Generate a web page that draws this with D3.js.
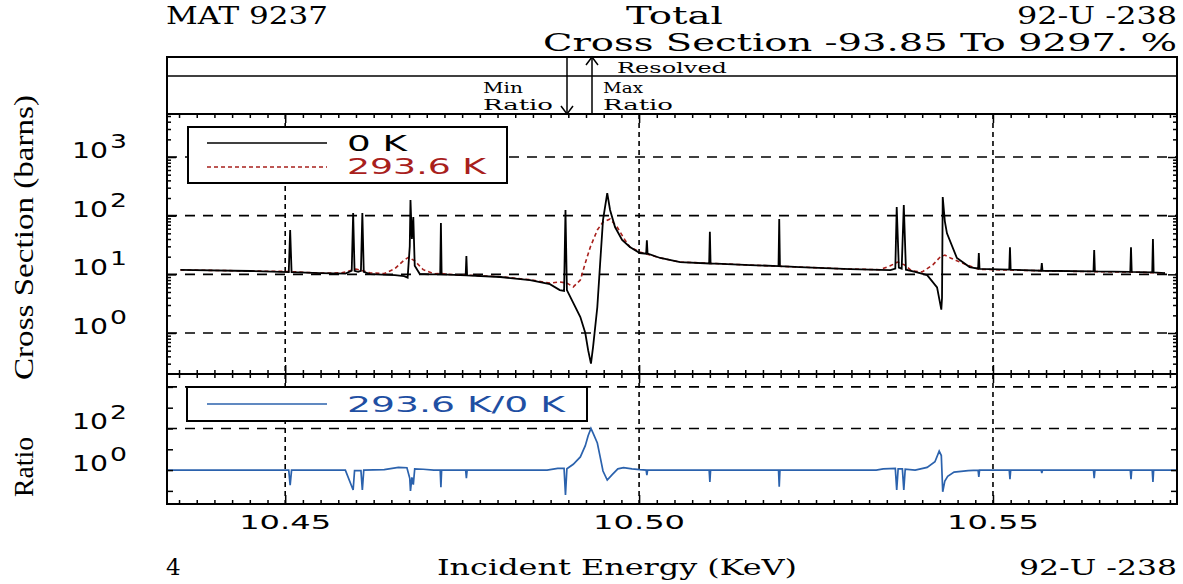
<!DOCTYPE html>
<html>
<head>
<meta charset="utf-8">
<script src="https://cdn.jsdelivr.net/npm/d3@7"></script>
<style>
  body { margin: 0; background: #fff; }
  svg { display: block; }
  .mono { font-family: "DejaVu Serif", "Liberation Serif", serif; }
  .sans { font-family: "DejaVu Sans", Arial, sans-serif; }
</style>
</head>
<body>
<div id="chart"></div>
<script>
// energies in keV, cross sections in barns
var xs0K = [10.4352, 10.4451, 10.4505, 10.4507, 10.4509, 10.4549, 10.4585, 10.4594, 10.4596, 10.4598,
  10.4603, 10.4607, 10.4609, 10.4611, 10.4620, 10.4655, 10.4668, 10.4673, 10.4676, 10.4677,
  10.4679, 10.4681, 10.4683, 10.4690, 10.4705, 10.4719, 10.4720, 10.4721, 10.4755, 10.4756,
  10.4757, 10.4804, 10.4846, 10.4874, 10.4888, 10.4894, 10.4896, 10.4898, 10.4907, 10.4917,
  10.4924, 10.4928, 10.4932, 10.4935, 10.4941, 10.4945, 10.4949, 10.4955, 10.4959, 10.4966,
  10.4976, 10.4987, 10.5001, 10.5010, 10.5011, 10.5012, 10.5030, 10.5058, 10.5099, 10.5100,
  10.5101, 10.5157, 10.5197, 10.5198, 10.5199, 10.5227, 10.5298, 10.5340, 10.5355, 10.5362,
  10.5364, 10.5367, 10.5371, 10.5374, 10.5377, 10.5390, 10.5407, 10.5421, 10.5427, 10.5428,
  10.5429, 10.5432, 10.5435, 10.5449, 10.5467, 10.5479, 10.5480, 10.5481, 10.5523, 10.5524,
  10.5525, 10.5568, 10.5569, 10.5570, 10.5642, 10.5643, 10.5644, 10.5694, 10.5695, 10.5696,
  10.5725, 10.5726, 10.5727, 10.5743];
var ys0K = [11.9, 11.4, 10.9, 57, 10.9, 10.5, 10.3, 11.5, 111, 11.5,
  11.0, 11.5, 111, 11.0, 10.1, 9.7, 9.3, 8.8, 30, 185,
  40, 95, 14, 10.2, 10.0, 10.0, 75, 10.0, 9.6, 20.6,
  9.6, 9.0, 8.0, 6.8, 5.4, 5.2, 125, 5.4, 3.25, 1.87,
  1.0, 0.51, 0.30, 0.58, 2.77, 15.6, 84, 243, 125, 64,
  38.5, 29.2, 23.1, 22.5, 38, 22.5, 19.0, 16.2, 15.3, 53,
  15.3, 14.4, 13.8, 88, 13.8, 13.3, 12.3, 11.9, 11.8, 12.5,
  140, 13, 12.5, 152, 12, 11, 9.7, 6.0, 2.5, 4,
  208, 80, 50, 19, 13.3, 12.5, 23, 12.4, 12.0, 29,
  12.0, 11.5, 15.6, 11.5, 11.2, 26, 11.2, 11.0, 29, 11.0,
  10.8, 40, 10.8, 10.5];

var xsHot = [10.4352, 10.4451, 10.4500, 10.4515, 10.4549, 10.4580, 10.4600, 10.4620, 10.4640, 10.4655,
  10.4667, 10.4674, 10.4683, 10.4695, 10.4710, 10.4720, 10.4730, 10.4804, 10.4846, 10.4874,
  10.4888, 10.4898, 10.4907, 10.4917, 10.4924, 10.4931, 10.4941, 10.4949, 10.4959, 10.4969,
  10.4980, 10.4987, 10.5001, 10.5030, 10.5058, 10.5100, 10.5157, 10.5227, 10.5298, 10.5340,
  10.5355, 10.5365, 10.5375, 10.5385, 10.5400, 10.5415, 10.5425, 10.5432, 10.5440, 10.5453,
  10.5471, 10.5481, 10.5500, 10.5600, 10.5700, 10.5743];
var ysHot = [11.9, 11.4, 11.2, 11.0, 10.5, 10.6, 12.3, 10.6, 10.3, 12.5,
  17, 19.5, 17, 12, 10.2, 10.4, 10.0, 9.1, 8.1, 7.1,
  7.4, 7.1, 6.1, 8.0, 15.6, 29, 57, 78, 88, 64,
  38.5, 29.2, 24, 19.0, 16.2, 15.4, 14.4, 13.3, 12.3, 12.0,
  14.0, 16.2, 14.5, 11.5, 11.0, 14.5, 19.5, 21.3, 19, 16.2,
  13.3, 12.2, 12.0, 11.3, 10.9, 10.5];

var xsRatio = [10.4333, 10.4505, 10.4507, 10.4509, 10.4585, 10.4596, 10.4598, 10.4607, 10.4609, 10.4611,
  10.4640, 10.4660, 10.4672, 10.4676, 10.4677, 10.4679, 10.4681, 10.4683, 10.4695, 10.4710,
  10.4719, 10.4720, 10.4721, 10.4755, 10.4756, 10.4757, 10.4870, 10.4885, 10.4894, 10.4896,
  10.4898, 10.4907, 10.4917, 10.4924, 10.4928, 10.4932, 10.4935, 10.4941, 10.4945, 10.4949,
  10.4955, 10.4962, 10.4970, 10.4978, 10.4990, 10.5001, 10.5010, 10.5011, 10.5012, 10.5099,
  10.5100, 10.5101, 10.5197, 10.5198, 10.5199, 10.5335, 10.5345, 10.5362, 10.5364, 10.5366,
  10.5372, 10.5374, 10.5376, 10.5390, 10.5407, 10.5418, 10.5424, 10.5427, 10.5429, 10.5432,
  10.5436, 10.5445, 10.5465, 10.5479, 10.5480, 10.5481, 10.5523, 10.5524, 10.5525, 10.5568,
  10.5569, 10.5570, 10.5642, 10.5643, 10.5644, 10.5694, 10.5695, 10.5696, 10.5725, 10.5726,
  10.5727, 10.5760];
var ysRatio = [1, 1, 0.19, 1, 1, 0.11, 0.95, 0.95, 0.11, 1,
  1.05, 1.35, 1.3, 0.4, 0.10, 0.45, 0.2, 1.15, 1.1, 1.0,
  1, 0.15, 1, 1, 0.41, 1, 1.0, 1.2, 1.2, 0.063,
  1.15, 1.9, 4.3, 15, 45, 100, 60, 20, 4.3, 0.9,
  0.33, 0.6, 1.15, 1.3, 1.15, 1.05, 1.0, 0.57, 1.0, 1,
  0.27, 1, 1, 0.16, 1, 1.0, 1.15, 1.2, 0.11, 1.15,
  1.15, 0.11, 1.1, 1.0, 1.35, 2.5, 8.2, 5, 0.09, 0.3,
  0.5, 0.8, 0.95, 1, 0.47, 1, 1, 0.37, 1, 1,
  0.72, 1, 1, 0.41, 1, 1, 0.37, 1, 1, 0.27,
  1, 1];

var xTickLabels = [10.45, 10.50, 10.55];
var yMainDecades = [0, 1, 2, 3];
var yRatioLabelDecades = [0, 2];
var yRatioGridDecades = [2, 4];
var legendMain = ['0 K', '293.6 K'];
var legendRatio = ['293.6 K/0 K'];

var W = 1183, H = 584;
var L = 167, R = 1177, TOP = 114, MID = 374, BOT = 504;
var RED = '#a8201c', BLUE = '#1f4fa3', BLUE_LINE = '#2b62ad';

var svg_ = d3.select('#chart')
  .append('svg')
    .attr('width', W)
    .attr('height', H);

var x_ = d3.scaleLinear()
  .domain([10.4333, 10.576])
  .range([L, R]);

var yMain_ = d3.scaleLog()
  .domain([0.2, 5410])
  .range([MID, TOP]);

var yRatio_ = d3.scaleLog()
  .domain([0.0234, 41700])
  .range([BOT, MID]);

svg_.append('clipPath').attr('id', 'clipMain')
  .append('rect').attr('x', L).attr('y', TOP).attr('width', R - L).attr('height', MID - TOP);
svg_.append('clipPath').attr('id', 'clipRatio')
  .append('rect').attr('x', L).attr('y', MID).attr('width', R - L).attr('height', BOT - MID);

// ---- header texts
function label(txt, x, y, size, len, cls, anchor) {
  var t = svg_.append('text')
    .attr('class', cls || 'mono')
    .attr('x', x)
    .attr('y', y)
    .attr('font-size', size)
    .attr('text-anchor', anchor || 'start')
    .text(txt);
  if (len) t.attr('textLength', len).attr('lengthAdjust', 'spacingAndGlyphs');
  return t;
}

label('MAT 9237', 166, 24, 24, 162);
label('Total', 626, 24, 24, 97);
label('92-U -238', 1177, 24, 24, 160, null, 'end');
label('Cross Section  -93.85 To 9297. %', 1177, 51, 24, 634, null, 'end');

// ---- resolved band
svg_.append('rect')
  .attr('x', L).attr('y', 57).attr('width', R - L).attr('height', TOP - 57)
  .attr('fill', 'none').attr('stroke', '#000').attr('stroke-width', 2);
svg_.append('line')
  .attr('x1', L).attr('x2', R).attr('y1', 76).attr('y2', 76)
  .attr('stroke', '#000').attr('stroke-width', 1.5);

var band = svg_.append('g').attr('stroke', '#000').attr('stroke-width', 1.5).attr('fill', 'none');
band.append('line').attr('x1', 567).attr('x2', 567).attr('y1', 57).attr('y2', TOP);
band.append('path').attr('d', 'M561,106 L567,114 L573,106');
band.append('line').attr('x1', 592).attr('x2', 592).attr('y1', 57).attr('y2', TOP);
band.append('path').attr('d', 'M586,65 L592,57 L598,65');

label('Resolved', 617, 73, 15, 110);
label('Min', 483, 93, 15, 40);
label('Ratio', 483, 110, 15, 70);
label('Max', 603, 93, 15, 40);
label('Ratio', 603, 110, 15, 70);

// ---- grids
function vGrid(y1, y2) {
  svg_.append('g').selectAll('line')
    .data(xTickLabels)
    .enter()
    .append('line')
      .attr('x1', function(d) { return x_(d); })
      .attr('x2', function(d) { return x_(d); })
      .attr('y1', y1)
      .attr('y2', y2)
      .attr('stroke', '#000')
      .attr('stroke-width', 1.6)
      .attr('stroke-dasharray', '5,4');
}
vGrid(TOP, MID);
vGrid(MID, BOT);

svg_.append('g').selectAll('line')
  .data(yMainDecades)
  .enter()
  .append('line')
    .attr('x1', L)
    .attr('x2', R)
    .attr('y1', function(d) { return yMain_(Math.pow(10, d)); })
    .attr('y2', function(d) { return yMain_(Math.pow(10, d)); })
    .attr('stroke', '#000')
    .attr('stroke-width', 1.6)
    .attr('stroke-dasharray', '10,8');

svg_.append('g').selectAll('line')
  .data(yRatioGridDecades)
  .enter()
  .append('line')
    .attr('x1', L)
    .attr('x2', R)
    .attr('y1', function(d) { return yRatio_(Math.pow(10, d)); })
    .attr('y2', function(d) { return yRatio_(Math.pow(10, d)); })
    .attr('stroke', '#000')
    .attr('stroke-width', 1.6)
    .attr('stroke-dasharray', '10,8');

// ---- curves
var mainLine = d3.line()
  .x(function(d) { return x_(d[0]); })
  .y(function(d) { return yMain_(d[1]); });

var ratioLine = d3.line()
  .x(function(d) { return x_(d[0]); })
  .y(function(d) { return yRatio_(d[1]); });

svg_.append('path')
  .datum(d3.zip(xsHot, ysHot))
  .attr('clip-path', 'url(#clipMain)')
  .attr('d', mainLine)
  .attr('fill', 'none')
  .attr('stroke', RED)
  .attr('stroke-width', 1.6)
  .attr('stroke-dasharray', '4,3');

svg_.append('path')
  .datum(d3.zip(xs0K, ys0K))
  .attr('clip-path', 'url(#clipMain)')
  .attr('d', mainLine)
  .attr('fill', 'none')
  .attr('stroke', '#000')
  .attr('stroke-width', 1.8);

svg_.append('path')
  .datum(d3.zip(xsRatio, ysRatio))
  .attr('clip-path', 'url(#clipRatio)')
  .attr('d', ratioLine)
  .attr('fill', 'none')
  .attr('stroke', BLUE_LINE)
  .attr('stroke-width', 1.7);

// ---- ticks
var minorX = d3.range(10.435, 10.5761, 0.0025).filter(function(v) {
  return xTickLabels.every(function(m) { return Math.abs(m - v) > 1e-6; });
});

function noDomain(g) { g.select('.domain').remove(); g.selectAll('text').remove(); }

function xTicks(axisFn, y, vals, size) {
  svg_.append('g')
    .attr('transform', 'translate(0,' + y + ')')
    .call(axisFn(x_).tickValues(vals).tickSize(size).tickFormat(''))
    .call(noDomain)
    .selectAll('line').attr('stroke-width', 1.5);
}
xTicks(d3.axisBottom, TOP, minorX, 4);
xTicks(d3.axisBottom, TOP, xTickLabels, 9);
xTicks(d3.axisTop, MID, minorX, 4);
xTicks(d3.axisTop, MID, xTickLabels, 9);
xTicks(d3.axisBottom, MID, minorX, 4);
xTicks(d3.axisBottom, MID, xTickLabels, 9);
xTicks(d3.axisTop, BOT, minorX, 4);
xTicks(d3.axisTop, BOT, xTickLabels, 9);

var minorY = [];
[-1, 0, 1, 2, 3].forEach(function(p) {
  for (var m = 2; m <= 9; m++) {
    var v = m * Math.pow(10, p);
    if (v > 0.2 && v < 5410) minorY.push(v);
  }
});
var majorY = yMainDecades.map(function(p) { return Math.pow(10, p); });

function yTicks(axisFn, xpos, scale, vals, size) {
  svg_.append('g')
    .attr('transform', 'translate(' + xpos + ',0)')
    .call(axisFn(scale).tickValues(vals).tickSize(size).tickFormat(''))
    .call(noDomain)
    .selectAll('line').attr('stroke-width', 1.5);
}
yTicks(d3.axisRight, L, yMain_, minorY, 4);
yTicks(d3.axisRight, L, yMain_, majorY, 9);
yTicks(d3.axisLeft, R, yMain_, minorY, 4);
yTicks(d3.axisLeft, R, yMain_, majorY, 9);

var ratioY = [-1, 0, 1, 2, 3, 4].map(function(p) { return Math.pow(10, p); });
yTicks(d3.axisRight, L, yRatio_, ratioY, 6);
yTicks(d3.axisLeft, R, yRatio_, ratioY, 6);

// ---- frames
svg_.append('rect')
  .attr('x', L).attr('y', TOP).attr('width', R - L).attr('height', BOT - TOP)
  .attr('fill', 'none').attr('stroke', '#000').attr('stroke-width', 2);
svg_.append('line')
  .attr('x1', L).attr('x2', R).attr('y1', MID).attr('y2', MID)
  .attr('stroke', '#000').attr('stroke-width', 2);

// ---- tick labels
svg_.append('g').selectAll('text')
  .data(xTickLabels)
  .enter()
  .append('text')
    .attr('class', 'sans')
    .attr('x', function(d) { return x_(d); })
    .attr('y', 529)
    .attr('font-size', 19)
    .attr('text-anchor', 'middle')
    .attr('textLength', 92)
    .attr('lengthAdjust', 'spacingAndGlyphs')
    .text(function(d) { return d3.format('.2f')(d); });

function decadeLabels(decades, scale) {
  var g = svg_.append('g').selectAll('g')
    .data(decades)
    .enter()
    .append('g')
      .attr('transform', function(d) { return 'translate(72,' + (scale(Math.pow(10, d)) + 1) + ')'; });
  g.append('text')
    .attr('class', 'sans')
    .attr('font-size', 21)
    .attr('textLength', 36)
    .attr('lengthAdjust', 'spacingAndGlyphs')
    .text('10');
  g.append('text')
    .attr('class', 'sans')
    .attr('x', 38)
    .attr('y', -10)
    .attr('font-size', 20)
    .attr('textLength', 17)
    .attr('lengthAdjust', 'spacingAndGlyphs')
    .text(function(d) { return d; });
}
decadeLabels(yMainDecades, yMain_);
decadeLabels(yRatioLabelDecades, yRatio_);

// ---- legends
var lg = svg_.append('g');
lg.append('rect')
  .attr('x', 188).attr('y', 127).attr('width', 319).attr('height', 56)
  .attr('fill', '#fff').attr('stroke', '#000').attr('stroke-width', 2);
lg.append('line').attr('x1', 207).attr('x2', 327).attr('y1', 143).attr('y2', 143)
  .attr('stroke', '#000').attr('stroke-width', 1.6);
lg.append('line').attr('x1', 207).attr('x2', 327).attr('y1', 167).attr('y2', 167)
  .attr('stroke', RED).attr('stroke-width', 1.6).attr('stroke-dasharray', '4,3');
label(legendMain[0], 347, 151, 21, 60, 'sans');
label(legendMain[1], 347, 174, 21, 139, 'sans').attr('fill', RED);

var lr = svg_.append('g');
lr.append('rect')
  .attr('x', 187).attr('y', 387).attr('width', 400).attr('height', 34)
  .attr('fill', '#fff').attr('stroke', '#000').attr('stroke-width', 2);
lr.append('line').attr('x1', 207).attr('x2', 327).attr('y1', 404).attr('y2', 404)
  .attr('stroke', BLUE_LINE).attr('stroke-width', 1.6);
label(legendRatio[0], 347, 412, 21, 218, 'sans').attr('fill', BLUE);

// ---- axis titles
svg_.append('text')
  .attr('transform', 'translate(33,380) rotate(-90)')
  .attr('font-family', '"Liberation Serif", "Times New Roman", serif')
  .attr('font-size', 28)
  .attr('textLength', 285)
  .attr('lengthAdjust', 'spacingAndGlyphs')
  .text('Cross Section (barns)');
svg_.append('text')
  .attr('transform', 'translate(33,497) rotate(-90)')
  .attr('font-family', '"Liberation Serif", "Times New Roman", serif')
  .attr('font-size', 28)
  .attr('textLength', 60)
  .attr('lengthAdjust', 'spacingAndGlyphs')
  .text('Ratio');

label('4', 166, 575, 23, null);
label('Incident Energy (KeV)', 437, 575, 23, 360);
label('92-U -238', 1177, 575, 23, 158, null, 'end');
</script>
</body>
</html>
